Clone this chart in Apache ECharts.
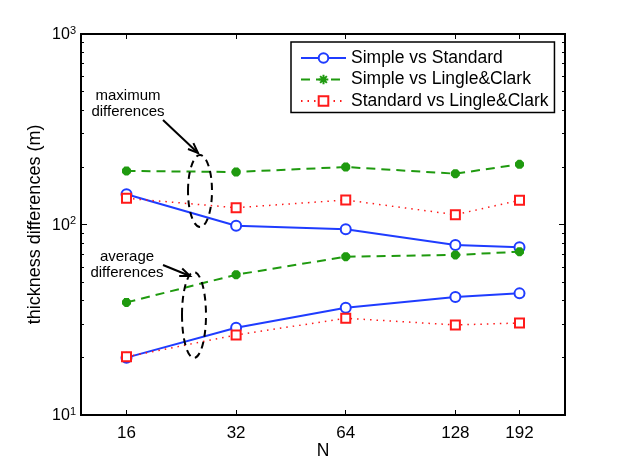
<!DOCTYPE html>
<html>
<head>
<meta charset="utf-8">
<script src="https://cdn.jsdelivr.net/npm/echarts@6/dist/echarts.min.js"></script>
<style>
  html, body { margin: 0; padding: 0; background: #fff; }
  #chart { width: 623px; height: 468px; }
</style>
</head>
<body>
<div id="chart"></div>
<script>
// number of layers N (log axis, base 2)
const N = [16, 32, 64, 128, 192];
const xTicks = [16, 32, 64, 128, 192];
const yLabels = [10, 100, 1000];
const yMinorTicks = [20, 30, 40, 50, 60, 70, 80, 90, 200, 300, 400, 500, 600, 700, 800, 900];

// maximum differences (m)
const maxSimpleStandard = [144, 98.6, 94.4, 78.0, 75.9];
const maxSimpleLingle = [191, 188.6, 200.4, 184.8, 207];
const maxStandardLingle = [137.3, 122.5, 134.5, 112.6, 134];

// average differences (m)
const avgSimpleStandard = [20.0, 28.7, 36.6, 41.6, 43.5];
const avgSimpleLingle = [39.0, 54.5, 67.8, 69.2, 72.0];
const avgStandardLingle = [20.2, 26.3, 32.2, 29.7, 30.4];

const FONT = 'Liberation Sans';
const BLUE = '#1f3cff';
const GREEN = '#1f9a0f';
const RED = '#ff1a1a';

const pairs = (vals) => N.map((n, i) => [n, vals[i]]);
const asterisk = 'path://M0,-10L0,10M-10,0L10,0M-7,-7L7,7M-7,7L7,-7';

const styles = {
  'Simple vs Standard': {
    symbol: 'emptyCircle', symbolSize: 10,
    lineStyle: { color: BLUE, width: 2, type: 'solid' },
    itemStyle: { color: BLUE, borderColor: BLUE, borderWidth: 2 }
  },
  'Simple vs Lingle&Clark': {
    symbol: asterisk, symbolSize: 9,
    lineStyle: { color: GREEN, width: 2, type: [9, 6] },
    itemStyle: { color: GREEN, borderColor: GREEN, borderWidth: 3.5 }
  },
  'Standard vs Lingle&Clark': {
    symbol: 'emptyRect', symbolSize: 9,
    lineStyle: { color: RED, width: 1.5, type: [1.5, 5] },
    itemStyle: { color: RED, borderColor: RED, borderWidth: 2 }
  }
};

const mk = (name, vals) => Object.assign({
  name, type: 'line', data: pairs(vals), showAllSymbol: true, z: 3
}, JSON.parse(JSON.stringify(styles[name])));

const series = [
  mk('Simple vs Standard', maxSimpleStandard),
  mk('Simple vs Lingle&Clark', maxSimpleLingle),
  mk('Standard vs Lingle&Clark', maxStandardLingle),
  mk('Simple vs Standard', avgSimpleStandard),
  mk('Simple vs Lingle&Clark', avgSimpleLingle),
  mk('Standard vs Lingle&Clark', avgStandardLingle)
];

const xBase = {
  type: 'log', logBase: 2, min: 12, max: 256,
  splitLine: { show: false },
  axisLine: { show: true, onZero: false, lineStyle: { color: '#000', width: 2 } },
  axisTick: { show: true, inside: true, length: 5, lineStyle: { color: '#000', width: 1 }, customValues: xTicks }
};
const yBase = {
  type: 'log', logBase: 10, min: 10, max: 1000,
  splitLine: { show: false },
  axisLine: { show: true, onZero: false, lineStyle: { color: '#000', width: 2 } },
  axisTick: { show: true, inside: true, length: 6, lineStyle: { color: '#000', width: 1 }, customValues: yLabels }
};
const yMinor = Object.assign({}, yBase, {
  axisLabel: { show: false },
  axisTick: { show: true, inside: true, length: 3, lineStyle: { color: '#000', width: 1 }, customValues: yMinorTicks }
});

const chart = echarts.init(document.getElementById('chart'), null, { renderer: 'canvas' });
chart.setOption({
  backgroundColor: '#fff',
  animation: false,
  textStyle: { fontFamily: FONT },
  grid: { left: 81, top: 34, right: 58, bottom: 53, containLabel: false },
  legend: {
    data: ['Simple vs Standard', 'Simple vs Lingle&Clark', 'Standard vs Lingle&Clark'],
    orient: 'vertical',
    left: 291, top: 42,
    padding: [6.5, 6, 2, 9],
    itemGap: 2.5,
    itemWidth: 45, itemHeight: 12,
    borderColor: '#000', borderWidth: 1.5,
    backgroundColor: '#fff',
    textStyle: { fontFamily: FONT, fontSize: 17.5, lineHeight: 19, color: '#000' }
  },
  xAxis: [
    Object.assign({}, xBase, {
      position: 'bottom',
      name: 'N', nameLocation: 'middle', nameGap: 27, nameMoveOverlap: false,
      nameTextStyle: { fontFamily: FONT, fontSize: 17.5, color: '#000' },
      axisLabel: { show: true, color: '#000', fontFamily: FONT, fontSize: 17, margin: 10, customValues: xTicks }
    }),
    Object.assign({}, xBase, { position: 'top', axisLabel: { show: false } })
  ],
  yAxis: [
    Object.assign({}, yBase, {
      position: 'left',
      name: 'thickness differences (m)', nameLocation: 'middle', nameGap: 37, nameRotate: 90,
      nameMoveOverlap: false,
      nameTextStyle: { fontFamily: FONT, fontSize: 18, color: '#000' },
      axisLabel: {
        show: true, margin: 5, customValues: yLabels,
        formatter: (v) => '{b|10}{s|' + Math.round(Math.log10(v)) + '}',
        rich: {
          b: { fontFamily: FONT, fontSize: 16, color: '#000', verticalAlign: 'bottom', lineHeight: 18 },
          s: { fontFamily: FONT, fontSize: 11, color: '#000', verticalAlign: 'top', padding: [0, 0, 10, 0], lineHeight: 18 }
        }
      }
    }),
    Object.assign({}, yBase, { position: 'right', axisLabel: { show: false } }),
    Object.assign({}, yMinor, { position: 'left' }),
    Object.assign({}, yMinor, { position: 'right' })
  ],
  series: series,
  graphic: [
    { type: 'text', x: 128, y: 88, style: { text: 'maximum\ndifferences', font: '15px "Liberation Sans"', fill: '#000', align: 'center', verticalAlign: 'top', lineHeight: 16 } },
    { type: 'text', x: 127, y: 249, style: { text: 'average\ndifferences', font: '15px "Liberation Sans"', fill: '#000', align: 'center', verticalAlign: 'top', lineHeight: 16 } },
    { type: 'line', shape: { x1: 163, y1: 120, x2: 198, y2: 153 }, style: { stroke: '#000', lineWidth: 2 } },
    { type: 'polyline', shape: { points: [[188, 149], [198, 153], [193.4, 143.2]] }, style: { stroke: '#000', lineWidth: 2, fill: null } },
    { type: 'line', shape: { x1: 163, y1: 265, x2: 190, y2: 276 }, style: { stroke: '#000', lineWidth: 2 } },
    { type: 'polyline', shape: { points: [[179.2, 275.9], [190, 276], [182.2, 268.5]] }, style: { stroke: '#000', lineWidth: 2, fill: null } },
    { type: 'ellipse', shape: { cx: 200, cy: 191, rx: 12, ry: 36 }, style: { stroke: '#000', lineWidth: 2, fill: null, lineDash: [7, 5] }, z: 10 },
    { type: 'ellipse', shape: { cx: 194, cy: 315, rx: 12, ry: 43 }, style: { stroke: '#000', lineWidth: 2, fill: null, lineDash: [7, 5] }, z: 10 }
  ]
});
</script>
</body>
</html>
